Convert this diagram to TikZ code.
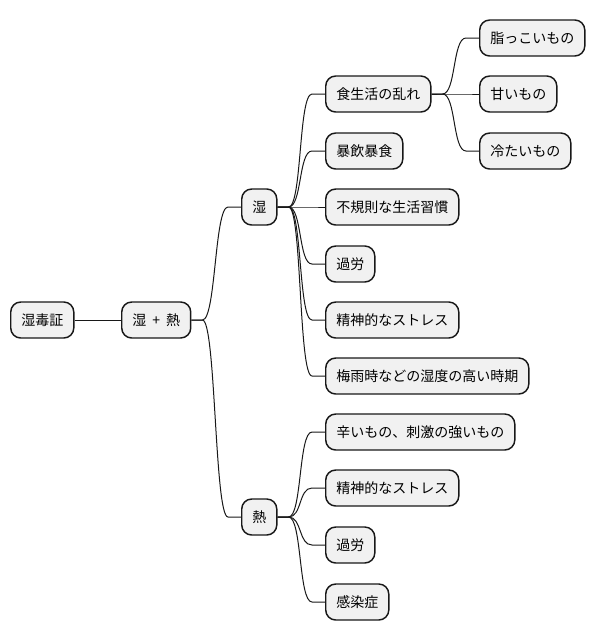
\documentclass[tikz,border=0pt]{standalone}
\usepackage{fontspec}
\setmainfont{Noto Sans CJK JP}
\usetikzlibrary{calc}
\definecolor{edgec}{HTML}{181818}
\definecolor{fillc}{HTML}{F1F1F1}
\tikzset{
  mmbox/.style={draw=edgec, fill=fillc, line width=1.1pt, rounded corners=7.5pt,
    minimum height=27pt, inner xsep=7.9pt, inner ysep=0pt, anchor=west,
    font=\fontsize{10.5pt}{12pt}\selectfont, text=black},
  conn/.style={draw=edgec, line width=0.75pt}
}
\newcommand\mmedge[2]{\draw[conn] (#1.east) -- ++(11,0) .. controls +(13.5,0) and +(-13.5,0) .. ($(#2.west)+(-13,0)$) -- (#2.west);}
\begin{document}
\begin{tikzpicture}[x=0.75pt,y=-0.75pt]
\useasboundingbox (0,0) rectangle (593,640);
\node[mmbox] (r) at (10,320) {湿毒証};
\node[mmbox] (hh) at (121,320) {湿\kern2.2pt{} + \kern2.2pt{}熱};
\node[mmbox] (s) at (241,207) {湿};
\node[mmbox] (n) at (241,517) {熱};
\node[mmbox] (s1) at (325,94) {食生活の乱れ};
\node[mmbox] (s2) at (325,151) {暴飲暴食};
\node[mmbox] (s3) at (325,207) {不規則な生活習慣};
\node[mmbox] (s4) at (325,264) {過労};
\node[mmbox] (s5) at (325,320) {精神的なストレス};
\node[mmbox] (s6) at (325,376) {梅雨時などの湿度の高い時期};
\node[mmbox] (n1) at (325,432) {辛いもの、刺激の強いもの};
\node[mmbox] (n2) at (325,488) {精神的なストレス};
\node[mmbox] (n3) at (325,545) {過労};
\node[mmbox] (n4) at (325,602) {感染症};
\node[mmbox] (f1) at (479,38) {脂っこいもの};
\node[mmbox] (f2) at (479,94) {甘いもの};
\node[mmbox] (f3) at (479,151) {冷たいもの};
\draw[conn] (r.east) -- (hh.west);
\mmedge{hh}{s}
\mmedge{hh}{n}
\mmedge{s}{s1}
\mmedge{s}{s2}
\mmedge{s}{s3}
\mmedge{s}{s4}
\mmedge{s}{s5}
\mmedge{s}{s6}
\mmedge{n}{n1}
\mmedge{n}{n2}
\mmedge{n}{n3}
\mmedge{n}{n4}
\mmedge{s1}{f1}
\mmedge{s1}{f2}
\mmedge{s1}{f3}
\end{tikzpicture}
\end{document}
